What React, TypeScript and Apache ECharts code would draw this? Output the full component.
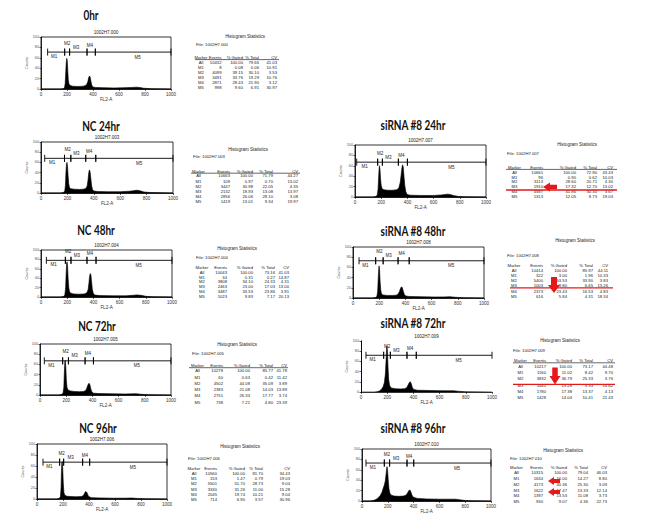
import React, { useEffect, useRef } from 'react';
import * as echarts from 'echarts';

// ---------- DATA ----------
const panelTitles = ['0hr', 'NC 24hr', 'siRNA #8 24hr', 'NC 48hr', 'siRNA #8 48hr', 'NC 72hr', 'siRNA #8 72hr', 'NC 96hr', 'siRNA #8 96hr'];
const fileNames = ['1002H7.000', '1002H7.003', '1002H7.007', '1002H7.004', '1002H7.008', '1002H7.005', '1002H7.009', '1002H7.006', '1002H7.010'];
const markerNames = ['M1', 'M2', 'M3', 'M4', 'M5'];
const statRowNames = ['All', 'M1', 'M2', 'M3', 'M4', 'M5'];
const statHeaders = ['Marker', 'Events', '% Gated', '% Total', 'CV'];
const xAxisName = 'FL2-A';
const yAxisName = 'Counts';
const statsTitle = 'Histogram Statistics';

// histograms: [FL2-A channel, relative counts]
const hist0hr = [[0,0],[150,0],[170,0.5],[180,2],[186,10],[190,30],[194,50],[198,59],[202,55],[206,35],[210,18],[215,10],[222,7],[240,5.5],[270,5],[300,5],[330,5.5],[350,8],[360,14],[366,21],[372,25],[378,23],[384,15],[390,8],[398,4],[420,3],[480,2.5],[560,2],[640,2.5],[700,3],[733,3.5],[760,3],[790,1.5],[850,0.5],[1000,0]];
const histNC24 = [[0,0],[150,0],[170,1],[180,4],[185,15],[189,40],[193,57],[197,60],[201,52],[205,35],[210,18],[216,11],[225,8.5],[250,7.5],[290,7],[320,7.5],[340,9],[350,14],[356,25],[361,38],[366,45],[371,43],[377,30],[383,15],[390,7],[400,4],[430,3],[500,2.5],[600,2.5],[670,3.5],[700,4.5],[724,5.5],[750,4.5],[780,2],[830,0.8],[1000,0]];
const histSi24 = [[0,0],[140,0],[160,1],[170,4],[176,15],[180,35],[184,55],[187,60],[191,52],[195,35],[200,22],[207,16],[220,14],[250,13],[290,13],[320,14],[335,18],[345,28],[352,42],[358,56],[363,62],[368,58],[374,40],[380,22],[388,10],[398,5],[420,3.5],[500,3],[600,3],[660,4],[690,5],[705,5.5],[725,5],[750,3],[790,1],[850,0.3],[1000,0]];
const histNC48 = [[0,0],[150,0],[170,1],[182,4],[188,20],[192,50],[196,72],[199,75],[203,65],[207,40],[212,20],[218,11],[228,8],[250,6.5],[290,6],[330,6.5],[350,9],[360,16],[366,30],[371,44],[376,50],[381,47],[386,33],[392,16],[400,7],[412,4],[450,3],[550,2.5],[650,2.5],[700,3.5],[733,4.5],[765,3.5],[800,1.5],[850,0.5],[1000,0]];
const histSi48 = [[0,0],[150,0],[172,1],[182,3],[188,12],[192,35],[196,56],[199,63],[203,55],[207,32],[212,15],[218,8],[230,6],[260,5],[300,5],[330,5.5],[345,8],[355,13],[363,19],[370,22],[377,20],[384,13],[392,7],[402,4],[430,3],[520,2.5],[620,2],[700,2.2],[740,2.5],[780,1.5],[840,0.5],[1000,0]];
const histNC72 = [[0,0],[140,0],[165,1],[176,4],[182,15],[186,45],[190,66],[193,68],[197,55],[201,30],[206,15],[214,10],[230,8],[260,7],[300,6.5],[335,7],[352,10],[362,17],[370,22],[375,23],[381,20],[388,12],[396,6],[410,3.5],[450,2.8],[550,2.3],[650,2],[710,2.3],[735,2.5],[770,1.5],[830,0.5],[1000,0]];
const histSi72 = [[0,0],[100,0],[122,0.5],[140,2],[155,5],[168,10],[178,18],[186,35],[191,60],[195,82],[198,90],[202,80],[206,50],[211,25],[218,13],[230,8],[260,6.5],[300,6],[335,6.5],[350,9],[360,14],[370,19],[377,20],[384,16],[392,9],[402,5],[430,3.5],[520,3],[620,2.5],[680,2.3],[707,2.5],[740,1.5],[800,0.5],[1000,0]];
const histNC96 = [[0,0],[150,0],[170,1],[180,4],[185,20],[188,50],[191,66],[194,68],[198,55],[202,30],[207,12],[214,7],[230,5],[260,4.5],[300,4],[340,4.5],[355,6],[365,10],[373,13.5],[378,14],[384,12],[392,7],[400,4],[420,2.5],[480,2],[580,1.5],[680,1.5],[730,1.8],[770,1],[830,0.3],[1000,0]];
const histSi96 = [[0,0],[60,0],[78,0.5],[100,2],[120,5],[140,10],[155,17],[165,25],[172,30],[180,38],[187,52],[191,62],[194,66],[198,60],[203,42],[209,24],[216,15],[228,11],[250,9.5],[290,9],[320,9.5],[340,11],[352,15],[361,19],[368,21],[375,20],[382,15],[390,10],[400,7],[430,5],[500,4],[600,3.5],[680,3.5],[724,3.5],[755,2.5],[800,1],[860,0.3],[1000,0]];

// marker boundaries (FL2-A channels) M1..M5 and the level where they are drawn
const bounds0hr = [51, 182, 220, 354, 418, 1000];
const boundsNC24 = [28, 178, 226, 339, 415, 1000];
const boundsSi24 = [13, 173, 209, 331, 400, 1000];
const boundsNC48 = [41, 186, 229, 351, 420, 1000];
const boundsSi48 = [46, 173, 230, 344, 429, 1000];
const boundsNC72 = [33, 173, 217, 344, 408, 1000];
const boundsSi72 = [38, 173, 224, 351, 422, 1000];
const boundsNC96 = [46, 174, 205, 351, 405, 1000];
const boundsSi96 = [31, 173, 214, 349, 401, 1000];
const markerLevels = [71, 68, 67, 78, 73, 67, 72, 67, 73];

// statistics: Events, % Gated, % Total, CV for All, M1..M5
const stats0hr = [['10432','100.00','79.66','41.03'],['8','0.08','0.06','10.91'],['4099','39.15','30.10','3.53'],['3491','33.76','19.29','10.76'],['2871','28.43','21.90','3.12'],['998','9.60','6.91','30.97']];
const statsNC24 = [['10663','100.00','71.79','44.27'],['109','0.97','0.70','13.02'],['3447','30.98','22.05','4.35'],['2132','18.93','13.08','13.97'],['2856','26.06','28.10','3.08'],['1419','13.01','9.34','19.97']];
const statsSi24 = [['10661','100.00','72.90','43.43'],['96','0.90','0.62','10.03'],['3113','28.60','20.71','4.30'],['1910','17.32','12.70','13.02'],['4587','41.86','30.30','3.67'],['1313','12.05','8.73','19.03']];
const statsNC48 = [['10043','100.00','73.16','41.03'],['34','0.31','0.27','14.87'],['3808','34.10','24.33','4.31'],['2463','23.00','17.03','13.00'],['3487','33.53','23.86','3.91'],['1023','9.83','7.17','20.13']];
const statsSi48 = [['10414','100.00','85.97','44.11'],['322','3.00','1.96','10.33'],['5400','53.53','33.90','3.83'],['1003','9.80','6.65','13.26'],['2373','23.43','16.53','4.83'],['616','5.84','4.31','18.34']];
const statsNC72 = [['10278','100.00','85.77','41.78'],['60','0.63','0.42','11.42'],['4502','44.08','35.09','3.89'],['2383','21.08','14.03','13.89'],['2751','26.33','17.77','3.74'],['738','7.21','4.80','23.39']];
const statsSi72 = [['10217','100.00','73.17','44.48'],['1160','11.02','8.42','9.70'],['3832','36.79','25.33','3.76'],['1441','13.28','9.33','14.62'],['1780','17.38','13.37','4.13'],['1428','14.04','10.41','21.43']];
const statsNC96 = [['10560','100.00','81.70','34.43'],['153','1.47','0.79','19.03'],['5501','51.70','28.73','9.04'],['3330','31.26','11.00','15.28'],['2045','19.74','10.21','9.04'],['714','6.90','3.57','30.96']];
const statsSi96 = [['10315','100.00','79.04','46.03'],['1634','16.00','14.27','8.80'],['4173','40.36','25.30','3.09'],['1622','17.47','13.33','12.14'],['1397','13.53','11.08','3.73'],['930','9.07','4.36','22.73']];

const histograms = [hist0hr, histNC24, histSi24, histNC48, histSi48, histNC72, histSi72, histNC96, histSi96];
const markerBounds = [bounds0hr, boundsNC24, boundsSi24, boundsNC48, boundsSi48, boundsNC72, boundsSi72, boundsNC96, boundsSi96];
const statsTables = [stats0hr, statsNC24, statsSi24, statsNC48, statsSi48, statsNC72, statsSi72, statsNC96, statsSi96];

// ---------- LAYOUT ----------
const gridBoxes = [
  [41, 37, 130, 52], [41, 142, 132, 51], [355, 145, 131, 52],
  [41, 250, 131, 47], [353, 247, 131, 51], [40, 344, 131, 51],
  [361, 341, 131, 51], [37, 444, 130, 55], [362, 449, 129, 52],
];
const boxed = [true, true, true, true, true, true, false, true, true];
const titlePos = [[91, 15], [101, 126], [413, 125], [96, 230], [413, 231], [97, 326], [413, 323], [98, 428], [413, 428]];
// hs center, file left/y, header y, first row y, row step, first col center, col right edges, header line [y, x0, x1]
const tableLayouts = [
  { hs: [245, 36], file: [196, 44], head: 57, row0: 62.7, step: 4.95, c0: 201, cols: [221.5, 243, 259, 277], line: [59.6, 195, 279] },
  { hs: [248, 149], file: [193, 156], head: 171, row0: 175.9, step: 5.15, c0: 198.5, cols: [230, 253, 273, 298], line: [173.2, 191, 300] },
  { hs: [577, 144], file: [507, 153], head: 167, row0: 172.3, step: 4.8, c0: 514.5, cols: [543, 576, 597, 613], line: [169.4, 506, 617] },
  { hs: [237, 248], file: [196, 257], head: 267.3, row0: 272.3, step: 4.75, c0: 202, cols: [227, 253, 275, 289], line: null },
  { hs: [575, 240], file: [507, 255.7], head: 265, row0: 270.2, step: 5.2, c0: 514, cols: [543, 567, 593, 608], line: null },
  { hs: [237, 344], file: [192, 353], head: 365, row0: 370.9, step: 6.25, c0: 197.5, cols: [223, 250, 273, 287], line: [367.7, 189, 288] },
  { hs: [560, 340], file: [513, 350], head: 360.7, row0: 366.3, step: 6.3, c0: 520.5, cols: [546, 572, 593, 613], line: [362.8, 513, 615] },
  { hs: [240, 446], file: [188, 458], head: 468.3, row0: 473.3, step: 5.3, c0: 194, cols: [217, 245, 263, 290], line: null },
  { hs: [563, 450], file: [510, 458], head: 467.3, row0: 472.7, step: 5.8, c0: 516.5, cols: [543, 567, 588, 607], line: null },
];
const redLines = [[190, 506, 617], [287.8, 510, 613], [384.4, 513, 615]];
// arrows: [cx, cy, length, width, direction]
const redArrows: [number, number, number, number, string][] = [
  [550, 187, 14, 9, 'left'], [554, 285, 16, 12, 'down'], [555, 376, 17, 11, 'down'],
  [554, 481, 12, 8, 'left'], [554, 492, 12, 8, 'left'],
];

const RED = '#e3191c';
const SMALL_FONT = 'Liberation Sans, Arial, sans-serif';
const TABLE_FS = 4.2;

function arrowPoints(cx: number, cy: number, len: number, wid: number, dir: string) {
  const h = len / 2;
  const pts = [[-h, 0], [0, -wid / 2], [0, -wid / 4], [h, -wid / 4], [h, wid / 4], [0, wid / 4], [0, wid / 2]];
  return pts.map(([a, b]) => (dir === 'down' ? [cx - b, cy - a] : [cx + a, cy + b]));
}

function txt(x: number, y: number, text: string, size: number, align: string, extra: any = {}) {
  return {
    type: 'text', x, y, silent: true,
    style: {
      text, fontSize: size, fontFamily: SMALL_FONT, fill: '#222',
      align, verticalAlign: 'middle', textAlign: align, textVerticalAlign: 'middle', ...extra,
    },
  };
}

export default function App() {
  const ref = useRef<HTMLDivElement>(null);
  useEffect(() => {
    const chart = echarts.init(ref.current!, null, { renderer: 'svg' });
    const grids: any[] = [];
    const xAxes: any[] = [];
    const yAxes: any[] = [];
    const series: any[] = [];
    const elements: any[] = [];

    panelTitles.forEach((title, i) => {
      const [l, t, w, h] = gridBoxes[i];
      grids.push({ left: l, top: t, width: w, height: h, show: boxed[i], borderColor: '#000', borderWidth: 0.8, backgroundColor: 'transparent' });
      xAxes.push({
        gridIndex: i, type: 'value', min: 0, max: 1000, interval: 200,
        axisLine: { show: true, onZero: false, lineStyle: { color: '#000', width: 0.8 } },
        axisTick: { show: true, length: 2, lineStyle: { color: '#000', width: 0.6 } },
        axisLabel: { fontSize: 4.5, color: '#333', margin: 2.5, fontFamily: SMALL_FONT, formatter: (v: number) => String(v) },
        splitLine: { show: false },
        name: xAxisName, nameLocation: 'middle', nameGap: 7,
        nameTextStyle: { fontSize: 4.5, color: '#333', fontFamily: SMALL_FONT },
      });
      const yIdx = yAxes.length;
      yAxes.push({
        gridIndex: i, type: 'value', min: 0, max: 100, interval: 20,
        axisLine: { show: true, onZero: false, lineStyle: { color: '#000', width: 0.8 } },
        axisTick: { show: true, length: 1.5, lineStyle: { color: '#000', width: 0.6 } },
        axisLabel: { fontSize: 3.8, color: '#555', margin: 2, fontFamily: SMALL_FONT },
        splitLine: { show: false },
        name: yAxisName, nameLocation: 'middle', nameGap: 10, nameRotate: 90,
        nameTextStyle: { fontSize: 3.8, color: '#555', fontFamily: SMALL_FONT },
      });
      if (!boxed[i]) {
        yAxes.push({
          gridIndex: i, type: 'value', min: 0, max: 100, position: 'right',
          axisLine: { show: true, lineStyle: { color: '#000', width: 0.8 } },
          axisTick: { show: false }, axisLabel: { show: false }, splitLine: { show: false },
        });
      }
      series.push({
        type: 'line', xAxisIndex: i, yAxisIndex: yIdx, data: histograms[i], symbol: 'none', silent: true,
        lineStyle: { color: '#000', width: 0.6 }, areaStyle: { color: '#000', opacity: 1 },
      });
      const bounds = markerBounds[i];
      const level = markerLevels[i];
      series.push({
        type: 'custom', xAxisIndex: i, yAxisIndex: yIdx, silent: true, clip: false,
        data: markerNames.map((_, k) => [bounds[k], bounds[k + 1], level, k]),
        encode: { x: [0, 1], y: 2 },
        renderItem: (params: any, api: any) => {
          const k = api.value(3);
          const p0 = api.coord([api.value(0), api.value(2)]);
          const p1 = api.coord([api.value(1), api.value(2)]);
          const th = 3.5;
          const offs = [4.5, -9, -5, -7, 5];
          const frac = [0.38, 0.5, 0.37, 0.33, 0.56];
          const st = { stroke: '#000', lineWidth: 0.9 };
          return {
            type: 'group',
            children: [
              { type: 'line', shape: { x1: p0[0], y1: p0[1], x2: p1[0], y2: p1[1] }, style: st },
              { type: 'line', shape: { x1: p0[0], y1: p0[1] - th, x2: p0[0], y2: p0[1] + th }, style: st },
              { type: 'line', shape: { x1: p1[0], y1: p1[1] - th, x2: p1[0], y2: p1[1] + th }, style: st },
              {
                type: 'text', x: p0[0] + (p1[0] - p0[0]) * frac[k], y: p0[1] + offs[k],
                style: { text: markerNames[k], fontSize: 4.5, fontFamily: SMALL_FONT, fill: '#222', align: 'center', verticalAlign: 'middle' },
              },
            ],
          };
        },
      });

      // panel title
      elements.push({
        type: 'text', x: titlePos[i][0], y: titlePos[i][1], scaleX: 0.8, silent: true,
        style: {
          text: title, fontSize: 12.5, fontWeight: 'bold', fontFamily: 'Lato, Open Sans, sans-serif', fill: '#111',
          align: 'center', verticalAlign: 'middle', textAlign: 'center', textVerticalAlign: 'middle',
        },
      });
      // file name above the plot
      elements.push(txt(l + w / 2, t - 5, fileNames[i], 4.5, 'center'));

      // statistics table
      const tl = tableLayouts[i];
      elements.push(txt(tl.hs[0], tl.hs[1], statsTitle, 4.5, 'center'));
      elements.push(txt(tl.file[0], tl.file[1], 'File: ' + fileNames[i], TABLE_FS, 'left'));
      elements.push(txt(tl.c0, tl.head, statHeaders[0], TABLE_FS, 'center'));
      statHeaders.slice(1).forEach((hd, c) => elements.push(txt(tl.cols[c], tl.head, hd, TABLE_FS, 'right')));
      if (tl.line) {
        elements.push({ type: 'line', silent: true, shape: { x1: tl.line[1], y1: tl.line[0], x2: tl.line[2], y2: tl.line[0] }, style: { stroke: '#000', lineWidth: 0.6 } });
      }
      statsTables[i].forEach((row, r) => {
        const y = tl.row0 + r * tl.step;
        elements.push(txt(tl.c0, y, statRowNames[r], TABLE_FS, 'center'));
        row.forEach((v, c) => elements.push(txt(tl.cols[c], y, v, TABLE_FS, 'right')));
      });
    });

    redLines.forEach(([y, x0, x1]) => {
      elements.push({ type: 'line', silent: true, shape: { x1: x0, y1: y, x2: x1, y2: y }, style: { stroke: RED, lineWidth: 1.3 } });
    });
    redArrows.forEach(([cx, cy, len, wid, dir]) => {
      elements.push({ type: 'polygon', silent: true, shape: { points: arrowPoints(cx, cy, len, wid, dir) }, style: { fill: RED } });
    });

    chart.setOption({
      animation: false,
      backgroundColor: '#fff',
      grid: grids,
      xAxis: xAxes,
      yAxis: yAxes,
      series,
      graphic: { elements },
    });
    return () => chart.dispose();
  }, []);
  return <div ref={ref} style={{ position: 'absolute', left: 0, top: 0, width: 645, height: 530, background: '#fff' }} />;
}
